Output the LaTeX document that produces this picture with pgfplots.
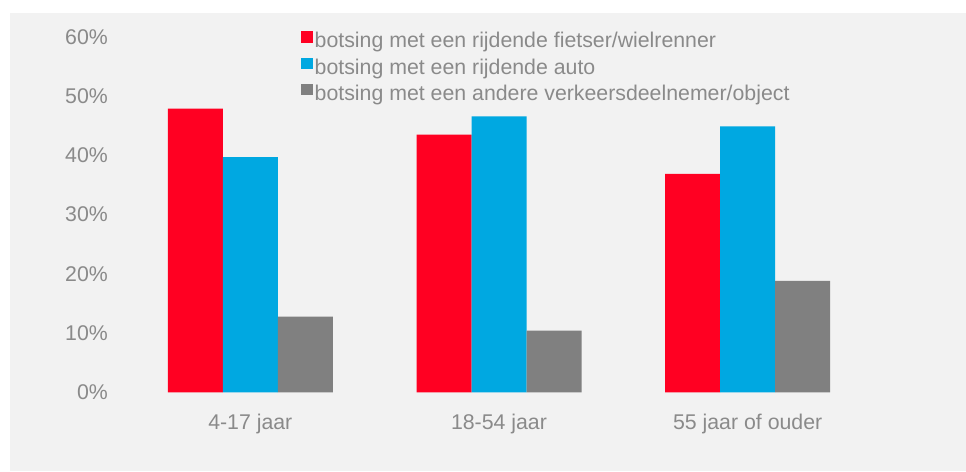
\documentclass[border=0pt]{standalone}
\usepackage{pgfplots}
\pgfplotsset{compat=1.18}
\usepackage{fontspec}
\setmainfont{Liberation Sans}
\definecolor{bred}{HTML}{FF0022}
\definecolor{bblue}{HTML}{00A8E1}
\definecolor{bgray}{HTML}{808080}
\definecolor{txt}{HTML}{8A8A8A}
\definecolor{bg}{HTML}{F2F2F2}
\begin{document}
\begin{tikzpicture}[x=1pt,y=1pt]
\fill[white] (0,0) rectangle (966,471);
\fill[bg] (10,0) rectangle (966,458);
\useasboundingbox (0,0) rectangle (966,471);
\begin{axis}[
  at={(126pt,78.7pt)}, anchor=south west,
  scale only axis, width=746pt, height=355.3pt,
  ybar=0pt, bar width=55pt,
  xmin=-0.5, xmax=2.5, ymin=0, ymax=60,
  enlargelimits=false,
  xtick={0,1,2},
  xticklabels={4-17 jaar,18-54 jaar,55 jaar of ouder},
  ytick={0,10,20,30,40,50,60},
  yticklabel={\pgfmathprintnumber{\tick}\%},
  /pgf/number format/assume math mode=true,
  axis line style={draw=none},
  tick style={draw=none},
  tick label style={font=\fontsize{21.3}{25}\selectfont, text=txt},
  yticklabel style={anchor=east, inner sep=0pt, xshift=-18pt},
  xticklabel style={anchor=north, inner sep=0pt, yshift=-17.7pt},
  legend style={at={(0.2346,1.018)}, anchor=north west, draw=none, fill=none,
    inner sep=0pt, row sep=2.3pt,
    font=\fontsize{21.3}{25}\selectfont, text=txt,
    nodes={inner sep=2pt, text height=15pt, text depth=5pt}},
  legend cell align=left,
  legend image code/.code={\fill[#1] (0pt,0pt) rectangle (11.5pt,11.5pt);},
]
\addplot[fill=bred, draw=none] coordinates {(0,47.9) (1,43.5) (2,36.9)};
\addplot[fill=bblue, draw=none] coordinates {(0,39.7) (1,46.6) (2,44.9)};
\addplot[fill=bgray, draw=none] coordinates {(0,12.8) (1,10.4) (2,18.8)};
\legend{botsing met een rijdende fietser/wielrenner, botsing met een rijdende auto, botsing met een andere verkeersdeelnemer/object}
\end{axis}
\end{tikzpicture}
\end{document}
